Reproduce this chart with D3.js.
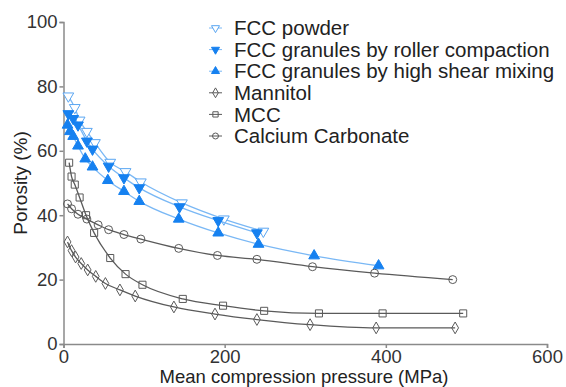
<!DOCTYPE html>
<meta charset="utf-8">
<script src="https://d3js.org/d3.v7.min.js"></script>
<style>
  body { margin: 0; background: #fff; }
  text { font-family: "Liberation Sans", Arial, sans-serif; }
</style>
<div id="chart"></div>
<script>

// data (pressure in MPa, porosity in %)
var powderX  = [6, 14, 20, 29, 39, 58, 77, 96, 147, 199, 248]
var powderY  = [77, 73.4, 69.5, 66, 62.5, 56.4, 53.5, 50.3, 43.8, 38.8, 35]
var rollerX  = [6, 12, 18, 29, 36, 56, 75, 94, 144, 192, 240]
var rollerY  = [71.5, 70, 68, 63, 60.5, 55.2, 51.6, 48.5, 42.6, 38.3, 34.5]
var shearX   = [5, 8, 12, 18, 27, 36, 55, 75, 94, 143, 192, 242, 311, 391]
var shearY   = [68, 66, 64.5, 61.5, 57.5, 55, 50.8, 47.4, 44.3, 38.8, 34.5, 31, 27.4, 24.3]
var mannX    = [5, 10, 15, 22, 30, 40, 52, 70, 89, 137, 188, 240, 306, 388, 486]
var mannY    = [31.7, 29, 27, 25, 23, 21, 18.8, 16.8, 14.9, 11.5, 9.3, 7.6, 6, 5, 5]
var mccX     = [7, 10, 14, 20, 28, 38, 58, 77, 98, 148, 198, 249, 317, 396, 496]
var mccY     = [56.3, 52, 49.5, 45.5, 40, 34.5, 26.7, 21.7, 18.4, 14, 11.9, 10.3, 9.5, 9.5, 9.5]
var caco3X   = [5, 10, 18, 29, 43, 56, 75, 96, 143, 191, 240, 309, 386, 483]
var caco3Y   = [43.5, 42, 40.3, 38.8, 37, 35.5, 34, 32.6, 29.7, 27.5, 26.3, 24, 22, 20]
var seriesNames = ["FCC powder", "FCC granules by roller compaction", "FCC granules by high shear mixing",
                   "Mannitol", "MCC", "Calcium Carbonate"]
var xTicks = [0, 200, 400, 600]
var yTicks = [0, 20, 40, 60, 80, 100]

var width = 566, height = 387

var svg = d3.select("#chart").append("svg")
  .attr("width", width)
  .attr("height", height)

var x = d3.scaleLinear().domain([0, 600]).range([63.5, 547])
var y = d3.scaleLinear().domain([0, 100]).range([344, 22])

var blueLine = "#7ab8f5", blueMark = "#1681f0", grayLine = "#5a5a5a"

var series = [
  { xs: powderX, ys: powderY, sym: d3.symbolTriangle, rot: 180, fill: "#fff", stroke: "#5aa6f2", line: blueLine },
  { xs: rollerX, ys: rollerY, sym: d3.symbolTriangle, rot: 180, fill: blueMark, stroke: blueMark, line: blueLine },
  { xs: shearX, ys: shearY, sym: d3.symbolTriangle, rot: 0, fill: blueMark, stroke: blueMark, line: blueLine },
  { xs: mannX, ys: mannY, sym: d3.symbolDiamond, rot: 0, fill: "none", stroke: grayLine, line: grayLine },
  { xs: mccX, ys: mccY, sym: d3.symbolSquare, rot: 0, fill: "none", stroke: grayLine, line: grayLine },
  { xs: caco3X, ys: caco3Y, sym: d3.symbolCircle, rot: 0, fill: "none", stroke: grayLine, line: grayLine }
]

// axes
svg.append("g")
  .attr("transform", "translate(0," + y(0) + ")")
  .call(d3.axisBottom(x).tickValues(xTicks).tickSize(4).tickPadding(2))
svg.append("g")
  .attr("transform", "translate(" + x(0) + ",0)")
  .call(d3.axisLeft(y).tickValues(yTicks).tickSize(4).tickPadding(2))

svg.selectAll(".domain, .tick line").attr("stroke", "#8a8a8a").attr("stroke-width", 1.5)
svg.selectAll(".tick text").attr("fill", "#333").style("font-size", "18.5px")
  .style("font-family", "'Liberation Sans', Arial, sans-serif")

// lines and markers
var line = d3.line().curve(d3.curveMonotoneX)

series.forEach(function(s) {
  var pts = s.xs.map(function(v, i) { return [x(v), y(s.ys[i])] })
  svg.append("path")
    .attr("d", line(pts))
    .attr("fill", "none")
    .attr("stroke", s.line)
    .attr("stroke-width", 1.3)
  svg.selectAll(null)
    .data(pts)
    .enter()
    .append("path")
    .attr("d", d3.symbol().type(s.sym).size(s.sym === d3.symbolDiamond ? 40 : 50))
    .attr("transform", function(d) { return "translate(" + d[0] + "," + d[1] + ") rotate(" + s.rot + ")" })
    .attr("fill", s.fill)
    .attr("stroke", s.stroke)
    .attr("stroke-width", 1)
})

// legend
var legend = svg.append("g")
series.forEach(function(s, i) {
  var ly = 28 + i * 21.6
  legend.append("line")
    .attr("x1", 209).attr("x2", 222).attr("y1", ly).attr("y2", ly)
    .attr("stroke", s.line).attr("stroke-width", 1)
  legend.append("path")
    .attr("d", d3.symbol().type(s.sym).size(28))
    .attr("transform", "translate(215.5," + ly + ") rotate(" + s.rot + ")")
    .attr("fill", s.fill)
    .attr("stroke", s.stroke)
    .attr("stroke-width", 1)
  legend.append("text")
    .attr("x", 234).attr("y", ly)
    .attr("dy", "0.35em")
    .style("font-size", "20.5px")
    .attr("fill", "#222")
    .text(seriesNames[i])
})

// axis titles
svg.append("text")
  .attr("transform", "translate(27,183) rotate(-90)")
  .attr("text-anchor", "middle")
  .style("font-size", "19px")
  .attr("fill", "#222")
  .text("Porosity (%)")

svg.append("text")
  .attr("x", 304).attr("y", 383)
  .attr("text-anchor", "middle")
  .style("font-size", "18.5px")
  .attr("fill", "#222")
  .text("Mean compression pressure (MPa)")

</script>
